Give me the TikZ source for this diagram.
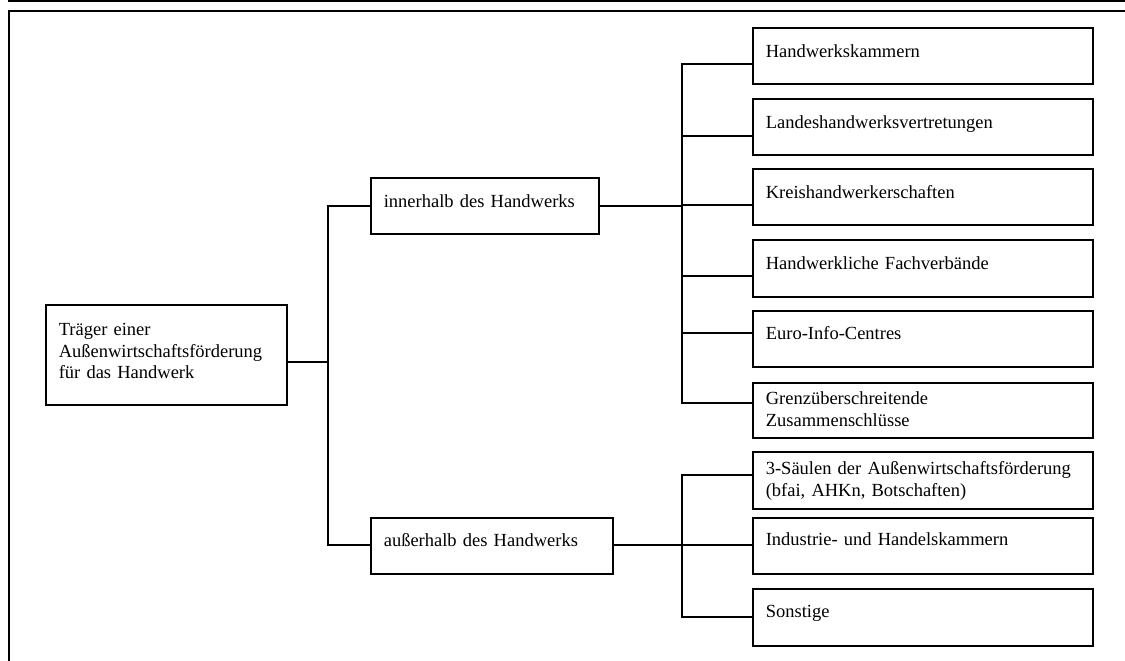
\documentclass[tikz,border=0pt]{standalone}
\usepackage{fontspec}
\setmainfont{Liberation Serif}
\usetikzlibrary{calc}
\tikzset{
  box/.style={draw=black, line width=1.6pt, rectangle, anchor=north west,
    inner xsep=13pt, inner ysep=0pt, align=left,
    font=\fontsize{18.5}{21.5}\selectfont},
  conn/.style={line width=1.5pt, line cap=rect},
  frame/.style={line width=2.6pt}
}
\begin{document}
\begin{tikzpicture}[x=1pt,y=-1pt]
\useasboundingbox (0,0) rectangle (1125,661);
% outer frame
\draw[frame] (8,1) -- (1125,1);
\draw[frame] (8,11) -- (1125,11);
\draw[frame] (9,10) -- (9,661);

% root
\node[box, text width=215pt, text height=31pt, text depth=69pt] (root) at (45,304)
  {Träger einer\\Außenwirtschaftsförderung\\für das Handwerk};
% level 2
\node[box, text width=202pt, text height=30pt, text depth=26pt] (inner) at (370,177) {innerhalb des Handwerks};
\node[box, text width=216pt, text height=29pt, text depth=27pt] (outer) at (370,517) {außerhalb des Handwerks};
% level 3 inner
\node[box, text width=314pt, text height=30pt, text depth=26pt] (hk) at (752,27) {Handwerkskammern};
\node[box, text width=314pt, text height=30pt, text depth=26pt] (lh) at (752,98) {Landeshandwerksvertretungen};
\node[box, text width=314pt, text height=30pt, text depth=26pt] (kh) at (752,168) {Kreishandwerkerschaften};
\node[box, text width=314pt, text height=30pt, text depth=27pt] (hf) at (752,239) {Handwerkliche Fachverbände};
\node[box, text width=314pt, text height=29pt, text depth=27pt] (eu) at (752,310) {Euro-Info-Centres};
\node[box, text width=314pt, text height=22pt, text depth=33pt] (gz) at (752,382) {Grenzüberschreitende\\Zusammenschlüsse};
% level 3 outer
\node[box, text width=314pt, text height=23pt, text depth=34pt] (ds) at (752,451) {3-Säulen der Außenwirtschaftsförderung\\(bfai, AHKn, Botschaften)};
\node[box, text width=314pt, text height=28pt, text depth=28pt] (ih) at (752,517) {Industrie- und Handelskammern};
\node[box, text width=314pt, text height=29pt, text depth=28pt] (so) at (752,588) {Sonstige};

% bus coordinates
\coordinate (b0) at (328,362);
\coordinate (b0t) at (328,206);
\coordinate (b0b) at (328,545);
\coordinate (b1t) at (682,64);
\coordinate (b1b) at (682,403);
\coordinate (b1m) at (682,206);
\coordinate (b2t) at (682,475);
\coordinate (b2m) at (682,545);
\coordinate (b2b) at (682,617);

% root to level 2
\draw[conn] (root.east |- b0) -- (b0);
\draw[conn] (b0t) -- (b0b);
\draw[conn] (b0t) -- (inner.west |- b0t);
\draw[conn] (b0b) -- (outer.west |- b0b);

% inner bus
\draw[conn] (inner.east |- b1m) -- (b1m);
\draw[conn] (b1t) -- (b1b);
\draw[conn] (b1t) -- (hk.west |- b1t);
\draw[conn] (682,136) coordinate (c2) -- (lh.west |- c2);
\draw[conn] (682,205) coordinate (c3) -- (kh.west |- c3);
\draw[conn] (682,276) coordinate (c4) -- (hf.west |- c4);
\draw[conn] (682,333) coordinate (c5) -- (eu.west |- c5);
\draw[conn] (b1b) -- (gz.west |- b1b);

% outer bus
\draw[conn] (outer.east |- b2m) -- (b2m);
\draw[conn] (b2t) -- (b2b);
\draw[conn] (b2t) -- (ds.west |- b2t);
\draw[conn] (b2m) -- (ih.west |- b2m);
\draw[conn] (b2b) -- (so.west |- b2b);
\end{tikzpicture}
\end{document}
